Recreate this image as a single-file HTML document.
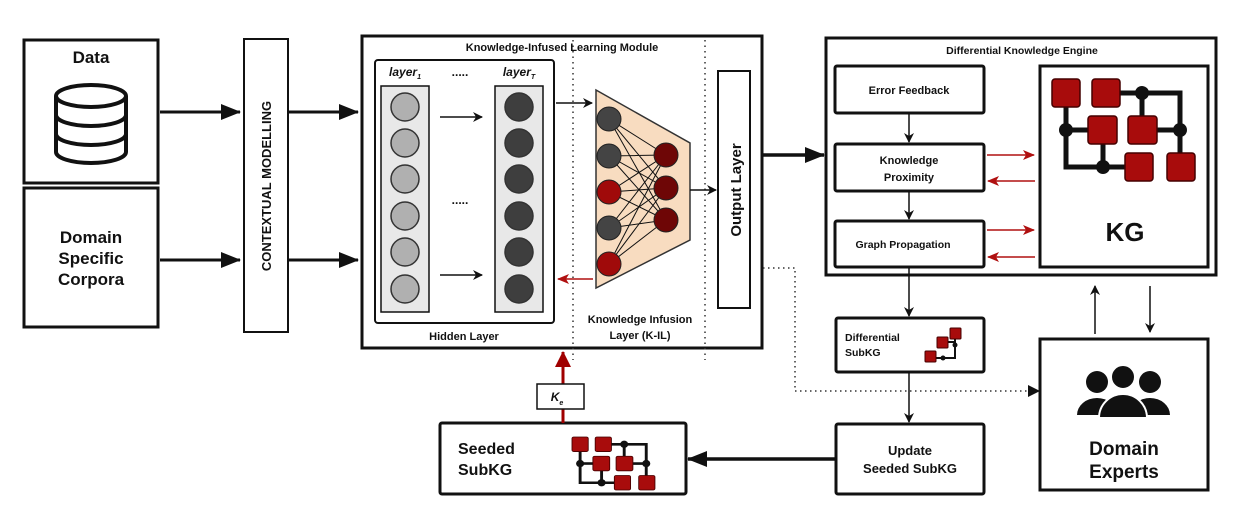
<!DOCTYPE html>
<html><head><meta charset="utf-8"><style>
html,body{margin:0;padding:0;background:#fff}
svg{display:block}
text{font-family:"Liberation Sans",Arial,sans-serif;font-weight:bold;fill:#111}
</style></head><body>
<svg width="1242" height="516" viewBox="0 0 1242 516" xmlns="http://www.w3.org/2000/svg">
<defs>
<marker id="ab" markerWidth="10" markerHeight="10" refX="9" refY="5" orient="auto" markerUnits="userSpaceOnUse"><path d="M0,0 L10,5 L0,10 L3,5 z" fill="#111"/></marker>
<marker id="abL" markerWidth="20" markerHeight="16" refX="19" refY="8" orient="auto" markerUnits="userSpaceOnUse"><path d="M0,0 L20,8 L0,16 z" fill="#111"/></marker>
<marker id="ar" markerWidth="12" markerHeight="10" refX="11" refY="5" orient="auto" markerUnits="userSpaceOnUse"><path d="M0,0 L12,5 L0,10 L3,5 z" fill="#b01010"/></marker>
<marker id="arL" markerWidth="16" markerHeight="16" refX="15" refY="8" orient="auto" markerUnits="userSpaceOnUse"><path d="M0,0 L16,8 L0,16 z" fill="#a00000"/></marker>
<g id="kg">
<g stroke="#111" stroke-width="5" fill="none">
<path d="M14,14 V88 H80"/><path d="M40,14 H128 V80"/><path d="M14,51 H40"/><path d="M90,14 V40"/><path d="M51,51 V88"/><path d="M100,51 H128"/>
</g>
<g fill="#111"><circle cx="90" cy="14" r="7"/><circle cx="14" cy="51" r="7"/><circle cx="128" cy="51" r="7"/><circle cx="51" cy="88" r="7"/></g>
<g fill="#a80c0c" stroke="#400" stroke-width="1.5">
<rect x="0" y="0" width="28" height="28" rx="3"/><rect x="40" y="0" width="28" height="28" rx="3"/>
<rect x="36" y="37" width="29" height="28" rx="3"/><rect x="76" y="37" width="29" height="28" rx="3"/>
<rect x="73" y="74" width="28" height="28" rx="3"/><rect x="115" y="74" width="28" height="28" rx="3"/>
</g>
</g>
</defs>

<!-- Left boxes -->
<rect x="24" y="40" width="134" height="143" fill="#fff" stroke="#111" stroke-width="3"/>
<text x="91" y="63" font-size="17" text-anchor="middle">Data</text>
<g stroke="#111" stroke-width="4" fill="#fff">
<path d="M56,96 V152 A35,11 0 0 0 126,152 V96"/>
<ellipse cx="91" cy="96" rx="35" ry="11"/>
</g>
<g stroke="#111" stroke-width="4" fill="none">
<path d="M56,115 A35,11 0 0 0 126,115"/>
<path d="M56,134 A35,11 0 0 0 126,134"/>
</g>
<rect x="24" y="188" width="134" height="139" fill="#fff" stroke="#111" stroke-width="3"/>
<text x="91" y="243" font-size="17" text-anchor="middle">Domain</text>
<text x="91" y="264" font-size="17" text-anchor="middle">Specific</text>
<text x="91" y="285" font-size="17" text-anchor="middle">Corpora</text>

<line x1="160" y1="112" x2="240" y2="112" stroke="#111" stroke-width="3" marker-end="url(#abL)"/>
<line x1="160" y1="260" x2="240" y2="260" stroke="#111" stroke-width="3" marker-end="url(#abL)"/>
<rect x="244" y="39" width="44" height="293" fill="#fff" stroke="#111" stroke-width="2"/>
<text transform="translate(271,186) rotate(-90)" font-size="13" text-anchor="middle">CONTEXTUAL  MODELLING</text>
<line x1="288" y1="112" x2="358" y2="112" stroke="#111" stroke-width="3" marker-end="url(#abL)"/>
<line x1="288" y1="260" x2="358" y2="260" stroke="#111" stroke-width="3" marker-end="url(#abL)"/>

<!-- Main module -->
<rect x="362" y="36" width="400" height="312" fill="#fff" stroke="#111" stroke-width="3"/>
<text x="562" y="51" font-size="11" text-anchor="middle">Knowledge-Infused Learning Module</text>
<line x1="573" y1="40" x2="573" y2="360" stroke="#333" stroke-width="1.5" stroke-dasharray="1.5,4"/>
<line x1="705" y1="40" x2="705" y2="360" stroke="#333" stroke-width="1.5" stroke-dasharray="1.5,4"/>
<rect x="375" y="60" width="179" height="263" rx="3" fill="#fff" stroke="#111" stroke-width="2"/>
<text x="405" y="76" font-size="12" font-style="italic" text-anchor="middle">layer<tspan font-size="7" dy="3">1</tspan></text>
<text x="519" y="76" font-size="12" font-style="italic" text-anchor="middle">layer<tspan font-size="7" dy="3">T</tspan></text>
<text x="460" y="76" font-size="12" text-anchor="middle">.....</text>
<text x="460" y="204" font-size="12" text-anchor="middle">.....</text>
<rect x="381" y="86" width="48" height="226" fill="#e8e8e8" stroke="#111" stroke-width="1.5"/>
<rect x="495" y="86" width="48" height="226" fill="#e8e8e8" stroke="#111" stroke-width="1.5"/>
<g stroke="#333" stroke-width="1.5">
<g fill="#b0b0b0"><circle cx="405" cy="107" r="14"/><circle cx="405" cy="143" r="14"/><circle cx="405" cy="179" r="14"/><circle cx="405" cy="216" r="14"/><circle cx="405" cy="252" r="14"/><circle cx="405" cy="289" r="14"/></g>
<g fill="#3e3e3e"><circle cx="519" cy="107" r="14"/><circle cx="519" cy="143" r="14"/><circle cx="519" cy="179" r="14"/><circle cx="519" cy="216" r="14"/><circle cx="519" cy="252" r="14"/><circle cx="519" cy="289" r="14"/></g>
</g>
<line x1="440" y1="117" x2="482" y2="117" stroke="#111" stroke-width="1.5" marker-end="url(#ab)"/>
<line x1="440" y1="275" x2="482" y2="275" stroke="#111" stroke-width="1.5" marker-end="url(#ab)"/>
<text x="464" y="340" font-size="11" text-anchor="middle">Hidden Layer</text>

<line x1="556" y1="103" x2="592" y2="103" stroke="#111" stroke-width="1.5" marker-end="url(#ab)"/>
<polygon points="596,90 690,143 690,240 596,288" fill="#f8dcc0" stroke="#333" stroke-width="1.5"/>
<g stroke="#111" stroke-width="1">
<path d="M609,119 L666,155 M609,119 L666,188 M609,119 L666,220 M609,156 L666,155 M609,156 L666,188 M609,156 L666,220 M609,192 L666,155 M609,192 L666,188 M609,192 L666,220 M609,228 L666,155 M609,228 L666,188 M609,228 L666,220 M609,264 L666,155 M609,264 L666,188 M609,264 L666,220"/>
</g>
<g stroke="#222" stroke-width="1">
<circle cx="609" cy="119" r="12" fill="#444"/><circle cx="609" cy="156" r="12" fill="#444"/><circle cx="609" cy="192" r="12" fill="#a00a0a"/><circle cx="609" cy="228" r="12" fill="#444"/><circle cx="609" cy="264" r="12" fill="#a00a0a"/>
<circle cx="666" cy="155" r="12" fill="#6e0606"/><circle cx="666" cy="188" r="12" fill="#6e0606"/><circle cx="666" cy="220" r="12" fill="#6e0606"/>
</g>
<line x1="690" y1="190" x2="716" y2="190" stroke="#111" stroke-width="1.5" marker-end="url(#ab)"/>
<line x1="593" y1="279" x2="558" y2="279" stroke="#b01010" stroke-width="1.5" marker-end="url(#ar)"/>
<text x="640" y="323" font-size="11" text-anchor="middle">Knowledge Infusion</text>
<text x="640" y="339" font-size="11" text-anchor="middle">Layer (K-IL)</text>
<rect x="718" y="71" width="32" height="237" fill="#fff" stroke="#111" stroke-width="2"/>
<text transform="translate(741,190) rotate(-90)" font-size="15" text-anchor="middle">Output Layer</text>

<line x1="762" y1="155" x2="824" y2="155" stroke="#111" stroke-width="3.5" marker-end="url(#abL)"/>

<!-- DKE -->
<rect x="826" y="38" width="390" height="237" fill="#fff" stroke="#111" stroke-width="3"/>
<text x="1022" y="54" font-size="10.5" text-anchor="middle">Differential Knowledge Engine</text>
<rect x="835" y="66" width="149" height="47" rx="2" fill="#fff" stroke="#111" stroke-width="3"/>
<text x="909" y="94" font-size="11" text-anchor="middle">Error Feedback</text>
<rect x="835" y="144" width="149" height="47" rx="2" fill="#fff" stroke="#111" stroke-width="3"/>
<text x="909" y="164" font-size="11" text-anchor="middle">Knowledge</text>
<text x="909" y="181" font-size="11" text-anchor="middle">Proximity</text>
<rect x="835" y="221" width="149" height="46" rx="2" fill="#fff" stroke="#111" stroke-width="3"/>
<text x="903" y="248" font-size="10.5" text-anchor="middle">Graph Propagation</text>
<line x1="909" y1="113" x2="909" y2="142" stroke="#111" stroke-width="1.5" marker-end="url(#ab)"/>
<line x1="909" y1="191" x2="909" y2="219" stroke="#111" stroke-width="1.5" marker-end="url(#ab)"/>
<rect x="1040" y="66" width="168" height="201" fill="#fff" stroke="#111" stroke-width="3"/>
<use href="#kg" transform="translate(1052,79)"/>
<text x="1125" y="241" font-size="26" text-anchor="middle">KG</text>
<g stroke="#b01010" stroke-width="1.5">
<line x1="987" y1="155" x2="1034" y2="155" marker-end="url(#ar)"/>
<line x1="1035" y1="181" x2="988" y2="181" marker-end="url(#ar)"/>
<line x1="987" y1="230" x2="1034" y2="230" marker-end="url(#ar)"/>
<line x1="1035" y1="257" x2="988" y2="257" marker-end="url(#ar)"/>
</g>

<!-- lower right -->
<line x1="909" y1="267" x2="909" y2="316" stroke="#111" stroke-width="1.5" marker-end="url(#ab)"/>
<rect x="836" y="318" width="148" height="54" rx="2" fill="#fff" stroke="#111" stroke-width="3"/>
<text x="845" y="341" font-size="10.5">Differential</text>
<text x="845" y="356" font-size="10.5">SubKG</text>
<g stroke="#111" stroke-width="2" fill="none"><path d="M930,358 H955 V332"/><path d="M942,342 H955"/></g>
<g fill="#111"><circle cx="943" cy="358" r="2.5"/><circle cx="955" cy="345" r="2.5"/></g>
<g fill="#a80c0c" stroke="#400"><rect x="925" y="351" width="11" height="11" rx="1"/><rect x="937" y="337" width="11" height="11" rx="1"/><rect x="950" y="328" width="11" height="11" rx="1"/></g>
<line x1="909" y1="372" x2="909" y2="422" stroke="#111" stroke-width="1.5" marker-end="url(#ab)"/>
<rect x="836" y="424" width="148" height="70" rx="2" fill="#fff" stroke="#111" stroke-width="3"/>
<text x="910" y="455" font-size="13" text-anchor="middle">Update</text>
<text x="910" y="473" font-size="13" text-anchor="middle">Seeded SubKG</text>
<line x1="836" y1="459" x2="688" y2="459" stroke="#111" stroke-width="3.5" marker-end="url(#abL)"/>

<rect x="1040" y="339" width="168" height="151" fill="#fff" stroke="#111" stroke-width="3"/>
<g fill="#111">
<circle cx="1097" cy="382" r="11"/><circle cx="1150" cy="382" r="11"/>
<path d="M1077,415 A20,17 0 0 1 1117,415 Z"/><path d="M1130,415 A20,17 0 0 1 1170,415 Z"/>
<circle cx="1123" cy="377" r="12" stroke="#fff" stroke-width="2"/>
<path d="M1099,418 A24,24 0 0 1 1147,418 Z" stroke="#fff" stroke-width="2"/>
</g>
<text x="1124" y="455" font-size="19" text-anchor="middle">Domain</text>
<text x="1124" y="478" font-size="19" text-anchor="middle">Experts</text>
<line x1="1095" y1="334" x2="1095" y2="286" stroke="#111" stroke-width="1.5" marker-end="url(#ab)"/>
<line x1="1150" y1="286" x2="1150" y2="332" stroke="#111" stroke-width="1.5" marker-end="url(#ab)"/>
<path d="M763,268 H795 V391 H1030" fill="none" stroke="#333" stroke-width="1.5" stroke-dasharray="1.5,3.5"/>
<path d="M1028,385 L1040,391 L1028,397 z" fill="#111"/>

<!-- Seeded -->
<rect x="440" y="423" width="246" height="71" rx="2" fill="#fff" stroke="#111" stroke-width="3"/>
<text x="458" y="454" font-size="16">Seeded</text>
<text x="458" y="475" font-size="16">SubKG</text>
<use href="#kg" transform="translate(572,437) scale(0.58,0.52)"/>
<line x1="563" y1="423" x2="563" y2="352" stroke="#a00000" stroke-width="3" marker-end="url(#arL)"/>
<rect x="537" y="384" width="47" height="25" fill="#fff" stroke="#111" stroke-width="1.5"/>
<text x="557" y="401" font-size="12" font-style="italic" text-anchor="middle">K<tspan font-size="7" dy="4">e</tspan></text>
</svg>
</body></html>
